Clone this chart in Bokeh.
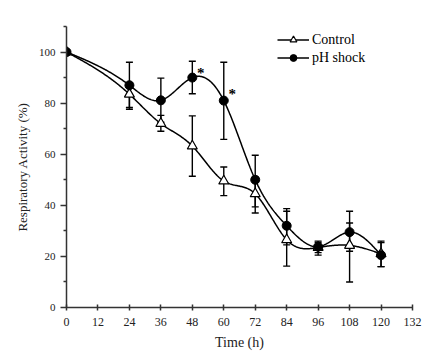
import numpy as np
from bokeh.plotting import figure
from bokeh.models import (ColumnDataSource, Whisker, TeeHead, FixedTicker, Range1d,
                          Legend, LegendItem)
from bokeh.core.properties import value
from bokeh.embed import file_html
from bokeh.resources import INLINE

# ---- data ----
time_h = [0, 24, 36, 48, 60, 72, 84, 96, 108, 120]
control = [100, 83.5, 72, 63.2, 49.5, 44.5, 26.5, 23.5, 24.3, 21]
control_upper = [100, 88, 75.2, 75, 55, 51, 37.7, 25.5, 33.1, 26]
control_lower = [100, 78.3, 69, 51.4, 43.8, 37, 16.2, 21.5, 10, 16]
ph_shock = [100, 87, 81.1, 90, 81, 50, 32, 23.8, 29.5, 20.5]
ph_upper = [100, 96, 89.8, 96.4, 96, 59.6, 38.7, 26, 37.7, 25.4]
ph_lower = [100, 77.6, 72.5, 83.7, 65.8, 39.4, 24.5, 20.5, 22, 16]
star_x = [51.2, 63.2]
star_y = [91.8, 83.5]
x_ticks = list(range(0, 133, 12))
y_ticks = [0, 20, 40, 60, 80, 100]
y_minor = [10, 30, 50, 70, 90, 110]


def natural_spline(x, y, n=400):
    x = np.asarray(x, float)
    y = np.asarray(y, float)
    m = len(x)
    h = np.diff(x)
    A = np.zeros((m, m))
    b = np.zeros(m)
    A[0, 0] = 1
    A[-1, -1] = 1
    for i in range(1, m - 1):
        A[i, i - 1] = h[i - 1]
        A[i, i] = 2 * (h[i - 1] + h[i])
        A[i, i + 1] = h[i]
        b[i] = 6 * ((y[i + 1] - y[i]) / h[i] - (y[i] - y[i - 1]) / h[i - 1])
    M = np.linalg.solve(A, b)
    xs = np.linspace(x[0], x[-1], n)
    ys = np.empty_like(xs)
    for k, xv in enumerate(xs):
        i = min(np.searchsorted(x, xv, side="right") - 1, m - 2)
        t1 = x[i + 1] - xv
        t0 = xv - x[i]
        ys[k] = (M[i] * t1 ** 3 / (6 * h[i]) + M[i + 1] * t0 ** 3 / (6 * h[i])
                 + (y[i] / h[i] - M[i] * h[i] / 6) * t1
                 + (y[i + 1] / h[i] - M[i + 1] * h[i] / 6) * t0)
    return xs, ys


FONT = "Liberation Serif"

p = figure(frame_width=346, frame_height=281, min_border_left=66, min_border_right=27,
           min_border_top=26, min_border_bottom=51, output_backend="svg",
           toolbar_location=None, x_range=Range1d(0, 132), y_range=Range1d(0, 110))
p.xgrid.visible = False
p.ygrid.visible = False
p.outline_line_color = None
p.background_fill_color = "white"

cx, cy = natural_spline(time_h, control)
px, py = natural_spline(time_h, ph_shock)
l1 = p.line(cx, cy, line_color="black", line_width=1.5)
l2 = p.line(px, py, line_color="black", line_width=1.5)

src_c = ColumnDataSource(dict(x=time_h, y=control, up=control_upper, lo=control_lower))
src_p = ColumnDataSource(dict(x=time_h, y=ph_shock, up=ph_upper, lo=ph_lower))
for src in (src_c, src_p):
    w = Whisker(base="x", upper="up", lower="lo", source=src, line_color="black",
                line_width=1.4,
                upper_head=TeeHead(size=7, line_color="black", line_width=1.4),
                lower_head=TeeHead(size=7, line_color="black", line_width=1.4))
    p.add_layout(w)

m1 = p.scatter("x", "y", source=src_c, marker="triangle", size=10,
               fill_color="white", line_color="black", line_width=1.2)
m2 = p.scatter("x", "y", source=src_p, marker="circle", size=9,
               fill_color="black", line_color="black")

p.text(star_x, star_y, text=["*", "*"], text_font=value(FONT), text_font_size="15px",
       text_font_style="bold", text_align="center", text_baseline="middle",
       text_color="black")

legend = Legend(items=[LegendItem(label="Control", renderers=[l1, m1]),
                       LegendItem(label="pH shock", renderers=[l2, m2])],
                location=(211, 241), padding=0, margin=0, spacing=1,
                glyph_width=32, glyph_height=17, label_height=17,
                label_standoff=3, border_line_color=None, background_fill_alpha=0,
                label_text_font=FONT, label_text_font_size="14px",
                label_text_color="black")
p.add_layout(legend)

for ax in (p.xaxis[0], p.yaxis[0]):
    ax.axis_line_color = "#333333"
    ax.axis_line_width = 1.5
    ax.major_tick_line_color = "#333333"
    ax.major_tick_line_width = 1.5
    ax.minor_tick_line_color = "#333333"
    ax.minor_tick_line_width = 1.5
    ax.major_label_text_font = FONT
    ax.major_label_text_color = "#222222"
    ax.axis_label_text_font = FONT
    ax.axis_label_text_font_style = "normal"
    ax.axis_label_text_color = "#222222"

p.xaxis.ticker = FixedTicker(ticks=x_ticks)
p.xaxis.major_tick_in = 3
p.xaxis.major_tick_out = 3
p.xaxis.major_label_standoff = 7
p.xaxis.major_label_text_font_size = "12px"
p.xaxis.axis_label = "Time (h)"
p.xaxis.axis_label_text_font_size = "14px"
p.xaxis.axis_label_standoff = 6

p.yaxis.ticker = FixedTicker(ticks=y_ticks, minor_ticks=y_minor)
p.yaxis.major_tick_in = 0
p.yaxis.major_tick_out = 6
p.yaxis.minor_tick_in = 0
p.yaxis.minor_tick_out = 3
p.yaxis.major_label_standoff = 5
p.yaxis.major_label_text_font_size = "11px"
p.yaxis.axis_label = "Respiratory Activity (%)"
p.yaxis.axis_label_text_font_size = "13px"
p.yaxis.axis_label_standoff = 6

open("out.html", "w").write(file_html(p, INLINE))
